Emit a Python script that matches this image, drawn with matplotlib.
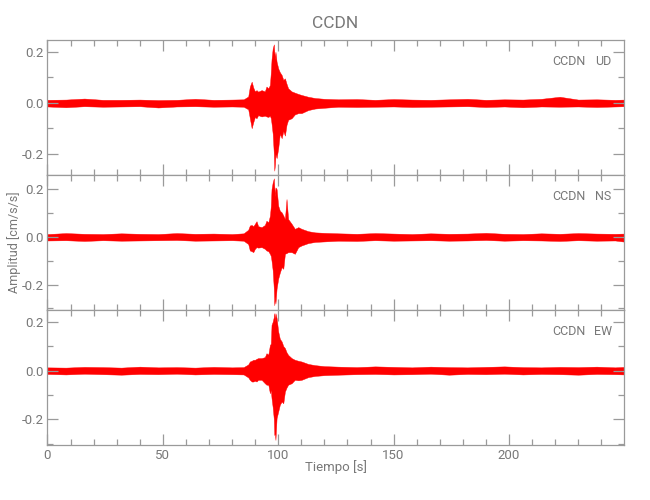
import matplotlib.pyplot as plt
from matplotlib.ticker import MultipleLocator, FormatStrFormatter

# narrow face close to the IDL vector font; DejaVu as fallback
plt.rcParams['font.family'] = ['Roboto', 'DejaVu Sans']

station = 'CCDN'
components = ['UD', 'NS', 'EW']

# tiempo [s] of the envelope samples
time_s = [0, 8, 16, 24, 32, 40, 48, 56, 64, 72, 80, 85,
          87.0, 87.7, 88.5, 89.2, 89.9, 90.6, 91.3, 92.8, 94.2, 94.9, 95.7,
          96.4, 96.8, 97.1, 97.6, 98.1, 98.3, 98.6, 98.8, 99.3, 100.0, 100.7,
          101.5, 102.2, 102.9, 103.6, 104.3, 105.8, 107.2, 108.7, 110.1,
          113.0, 116.0,
          120, 126, 134, 142, 150, 158, 166, 174, 182, 190, 198, 206, 214,
          222, 230, 238, 246, 250]

# upper / lower envelope of each component [cm/s/s]
ud_up = [.012, .013, .017, .012, .012, .013, .011, .012, .016, .012, .013, .014,
         .025, .064, .083, .060, .045, .050, .044, .050, .045, .064, .057,
         .070, .120, .170, .213, .229, .200, .170, .200, .161, .135, .120,
         .109, .090, .096, .075, .057, .045, .040, .035, .031,
         .024, .019,
         .016, .014, .015, .012, .015, .013, .012, .014, .016, .012, .014, .013, .016,
         .024, .013, .014, .012, .013]
ud_lo = [-.014, -.017, -.013, -.015, -.014, -.013, -.018, -.014, -.013, -.015, -.014, -.015,
         -.025, -.060, -.099, -.075, -.055, -.060, -.048, -.053, -.050, -.053, -.055,
         -.050, -.060, -.080, -.120, -.200, -.265, -.240, -.200, -.216, -.177, -.120,
         -.138, -.110, -.128, -.086, -.066, -.060, -.045, -.040, -.040,
         -.028, -.022,
         -.019, -.015, -.016, -.015, -.014, -.016, -.015, -.014, -.013, -.016, -.014, -.017, -.014,
         -.015, -.014, -.016, -.014, -.013]

ns_up = [.012, .016, .013, .012, .015, .013, .012, .016, .013, .014, .012, .015,
         .030, .048, .050, .045, .055, .066, .045, .041, .050, .068, .061,
         .089, .130, .201, .229, .246, .210, .170, .208, .201, .131, .110,
         .103, .090, .075, .159, .075, .055, .034, .041, .034,
         .024, .019,
         .017, .015, .013, .016, .014, .012, .015, .013, .014, .017, .013, .012, .015,
         .013, .016, .014, .013, .014]
ns_lo = [-.015, -.014, -.017, -.014, -.016, -.015, -.014, -.013, -.016, -.015, -.014, -.016,
         -.030, -.057, -.060, -.064, -.050, -.043, -.045, -.043, -.050, -.057, -.060,
         -.071, -.080, -.100, -.140, -.220, -.287, -.250, -.280, -.217, -.175, -.150,
         -.127, -.134, -.071, -.068, -.064, -.064, -.071, -.043, -.036,
         -.026, -.021,
         -.019, -.016, -.017, -.014, -.016, -.015, -.014, -.016, -.015, -.013, -.016, -.014, -.015,
         -.017, -.014, -.016, -.015, -.020]

ew_up = [.013, .012, .015, .014, .012, .016, .013, .014, .012, .015, .013, .014,
         .025, .037, .040, .044, .044, .048, .051, .051, .055, .071, .065,
         .105, .110, .187, .200, .220, .235, .200, .235, .215, .160, .130,
         .119, .100, .092, .075, .064, .051, .044, .040, .037,
         .027, .022,
         .018, .016, .014, .017, .015, .013, .016, .014, .013, .015, .017, .014, .013,
         .015, .014, .016, .013, .015]
ew_lo = [-.014, -.016, -.013, -.015, -.017, -.014, -.015, -.013, -.016, -.014, -.015, -.016,
         -.028, -.038, -.045, -.045, -.042, -.045, -.038, -.038, -.052, -.058, -.058,
         -.093, -.080, -.113, -.150, -.200, -.264, -.260, -.284, -.195, -.168, -.140,
         -.127, -.134, -.086, -.070, -.058, -.052, -.038, -.040, -.038,
         -.027, -.022,
         -.019, -.017, -.015, -.014, -.016, -.015, -.013, -.017, -.014, -.015, -.013, -.016, -.014,
         -.015, -.017, -.014, -.015, -.016]

envelopes = [(ud_up, ud_lo), (ns_up, ns_lo), (ew_up, ew_lo)]
# IDL scales each panel to the data range of its trace
y_ranges = [(-0.282, 0.246), (-0.307, 0.260), (-0.305, 0.248)]

GRAY = '#787878'
AXIS_GRAY = '#9a9a9a'


def style_axes(ax, show_xlabels):
    for sp in ax.spines.values():
        sp.set_color(AXIS_GRAY)
        sp.set_linewidth(0.9)
    ax.xaxis.set_major_locator(MultipleLocator(50))
    ax.xaxis.set_minor_locator(MultipleLocator(10))
    ax.yaxis.set_major_locator(MultipleLocator(0.2))
    ax.yaxis.set_minor_locator(MultipleLocator(0.1))
    ax.yaxis.set_major_formatter(FormatStrFormatter('%.1f'))
    ax.tick_params(which='both', direction='in', top=True, right=True,
                   color=AXIS_GRAY, labelcolor=GRAY, labelsize=9.5, width=0.9)
    ax.tick_params(which='major', length=8, pad=3)
    ax.tick_params(which='minor', length=4)
    if not show_xlabels:
        ax.tick_params(labelbottom=False)


def draw_panel(ax, comp, up, lo, ylim):
    ax.fill_between(time_s, lo, up, color='red', lw=0.3)
    ax.set_xlim(0, 249.7)
    ax.set_ylim(*ylim)
    # station / component tag, top right
    ax.text(0.905, 0.84, station, transform=ax.transAxes,
            ha='center', va='center', color=GRAY, fontsize=9)
    ax.text(0.965, 0.84, comp, transform=ax.transAxes,
            ha='center', va='center', color=GRAY, fontsize=9)


fig = plt.figure(figsize=(6.5, 5), dpi=100)

left, width, height = 0.073, 0.8865, 0.27
bottoms = [0.65, 0.38, 0.11]
axes = []
for i, comp in enumerate(components):
    ax = fig.add_axes([left, bottoms[i], width, height])
    up, lo = envelopes[i]
    draw_panel(ax, comp, up, lo, y_ranges[i])
    style_axes(ax, show_xlabels=(i == 2))
    axes.append(ax)

axes[0].set_title(station, color=GRAY, fontsize=12.5, pad=9)
axes[1].set_ylabel('Amplitud [cm/s/s]', color=GRAY, fontsize=9, va='center')
axes[1].yaxis.set_label_coords(-0.058, 0.5)
axes[2].set_xlabel('Tiempo [s]', color=GRAY, fontsize=9.5)
axes[2].xaxis.set_label_coords(0.5, -0.11)

fig.savefig('out.png', dpi=100)
